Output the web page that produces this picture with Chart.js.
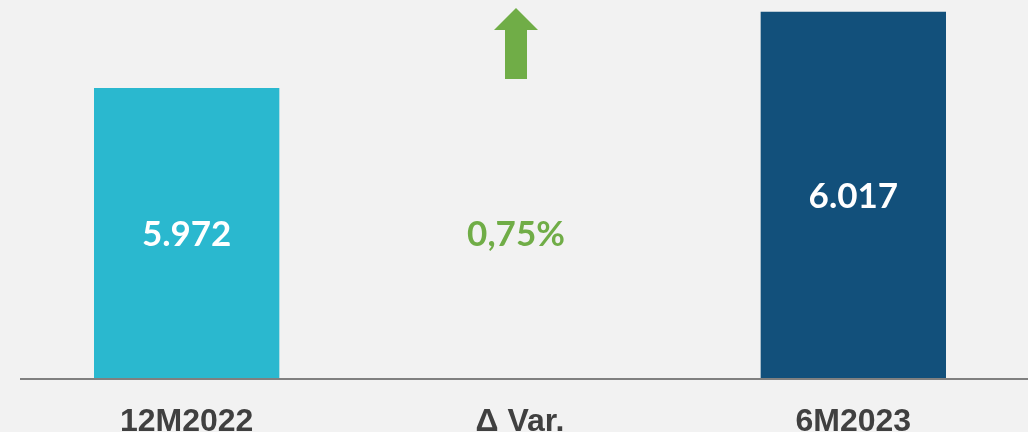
<!DOCTYPE html>
<html>
<head>
<meta charset="utf-8">
<script src="https://cdn.jsdelivr.net/npm/chart.js@4.4.0/dist/chart.umd.min.js"></script>
<style>
html,body{margin:0;padding:0;background:#f2f2f2;}
#wrap{width:1028px;height:432px;position:relative;}
</style>
</head>
<body>
<div id="wrap"><canvas id="c" width="1028" height="432"></canvas></div>
<script>
const categories = ['12M2022', 'Δ Var.', '6M2023'];
const values = [5972, null, 6017];
const valueLabels = ['5.972', '', '6.017'];
const variationLabel = '0,75%';
const barColors = ['#2ab8cf', 'rgba(0,0,0,0)', '#12507b'];
const yMin = 5800;
const yMax = 6024;

const decor = {
  id: 'decor',
  afterDatasetsDraw(chart) {
    const ctx = chart.ctx;
    const xs = chart.scales.x, ys = chart.scales.y;
    const base = ys.getPixelForValue(yMin);
    ctx.save();
    // value labels inside bars
    ctx.font = 'bold 35px Lato';
    ctx.fillStyle = '#ffffff';
    ctx.textAlign = 'center';
    ctx.textBaseline = 'middle';
    values.forEach((v, i) => {
      if (v == null) return;
      const x = xs.getPixelForValue(i);
      const y = ys.getPixelForValue(v);
      ctx.fillText(valueLabels[i], x, (y + base) / 2 + 1);
    });
    // variation
    const cx = xs.getPixelForValue(1);
    ctx.fillStyle = '#70ad47';
    ctx.fillText(variationLabel, cx - 4, (ys.getPixelForValue(values[0]) + base) / 2 + 1);
    // arrow
    const ax = cx - 4;
    const top = chart.chartArea.top;
    ctx.beginPath();
    ctx.moveTo(ax, top + 8);
    ctx.lineTo(ax + 22, top + 30);
    ctx.lineTo(ax + 11, top + 30);
    ctx.lineTo(ax + 11, top + 79);
    ctx.lineTo(ax - 11, top + 79);
    ctx.lineTo(ax - 11, top + 30);
    ctx.lineTo(ax - 22, top + 30);
    ctx.closePath();
    ctx.fill();
    // baseline
    ctx.strokeStyle = '#808080';
    ctx.lineWidth = 2;
    ctx.beginPath();
    ctx.moveTo(chart.chartArea.left, base);
    ctx.lineTo(chart.width, base);
    ctx.stroke();
    ctx.restore();
  }
};

new Chart(document.getElementById('c'), {
  type: 'bar',
  data: {
    labels: categories,
    datasets: [{
      data: values,
      backgroundColor: barColors,
      barPercentage: 0.556,
      categoryPercentage: 1.0
    }]
  },
  options: {
    responsive: false,
    animation: false,
    layout: { padding: { left: 20, right: 8, top: 0, bottom: 0 } },
    plugins: { legend: { display: false }, tooltip: { enabled: false } },
    scales: {
      x: {
        grid: { display: false, drawTicks: false },
        border: { display: false },
        afterFit(scale) { scale.height = 53; },
        ticks: {
          color: '#404040',
          font: { family: 'Liberation Sans', weight: 'bold', size: 32 },
          padding: 24,
          maxRotation: 0
        }
      },
      y: {
        display: false,
        min: yMin,
        max: yMax
      }
    }
  },
  plugins: [decor]
});
</script>
</body>
</html>
